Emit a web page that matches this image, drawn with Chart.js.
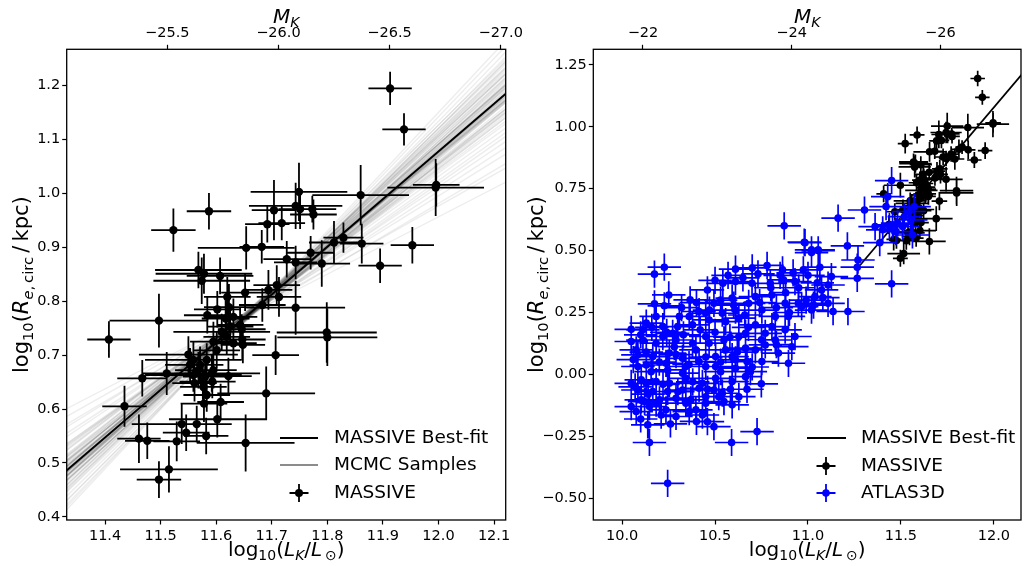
<!DOCTYPE html>
<html><head><meta charset="utf-8">
<script src="https://cdn.jsdelivr.net/npm/chart.js@4.4.1/dist/chart.umd.min.js"></script>
<style>
html,body{margin:0;padding:0;background:#fff;width:1025px;height:566px;overflow:hidden}
#c1{position:absolute;left:0;top:0}
#c2{position:absolute;left:510px;top:0}
</style></head>
<body>
<canvas id="c1" width="550" height="566"></canvas>
<canvas id="c2" width="515" height="566"></canvas>
<script>
// ---------------- DATA ----------------
// MASSIVE: log10(L_K/Lsun), log10(Re/kpc) and their errors
const massiveLogL = [11.913,11.938,11.996,11.995,11.860,11.953,11.895,11.862,11.829,11.812,11.790,11.770,11.749,11.743,11.751,11.773,11.775,11.704,11.692,11.718,11.587,11.523,11.654,11.682,11.727,11.743,11.694,11.713,11.683,11.743,11.799,11.800,11.707,11.690,11.653,11.497,11.407,11.435,11.467,11.461,11.476,11.497,11.515,11.529,11.546,11.538,11.565,11.582,11.602,11.608,11.578,11.577,11.511,11.550,11.561,11.593,11.622,11.647,11.648,11.646,11.584,11.617,11.623,11.620,11.652,11.607,11.568,11.578,11.574,11.602,11.595,11.601,11.610,11.625,11.643,11.559,11.571,11.583,11.595,11.553,11.568,11.580,11.592,11.576,11.559,11.631,11.619,11.631,11.709,11.583];
const massiveLogRe = [1.195,1.119,1.016,1.011,0.997,0.904,0.866,0.907,0.918,0.909,0.870,0.890,1.003,0.977,0.971,0.971,0.961,0.969,0.943,0.945,0.967,0.932,0.899,0.901,0.878,0.872,0.821,0.808,0.793,0.788,0.742,0.733,0.700,0.629,0.537,0.764,0.729,0.605,0.657,0.545,0.541,0.469,0.488,0.540,0.556,0.572,0.572,0.550,0.581,0.613,0.610,0.641,0.666,0.701,0.648,0.651,0.661,0.729,0.719,0.748,0.774,0.768,0.789,0.808,0.816,0.847,0.858,0.851,0.838,0.785,0.725,0.709,0.743,0.753,0.756,0.691,0.682,0.691,0.672,0.682,0.672,0.660,0.666,0.651,0.663,0.722,0.734,0.771,0.830,0.626];
const massiveErrL = [0.039,0.039,0.042,0.087,0.087,0.039,0.039,0.039,0.036,0.045,0.051,0.043,0.087,0.084,0.039,0.043,0.042,0.040,0.040,0.042,0.040,0.040,0.087,0.040,0.042,0.039,0.043,0.040,0.042,0.089,0.090,0.090,0.042,0.088,0.088,0.089,0.039,0.040,0.045,0.039,0.040,0.040,0.088,0.042,0.042,0.090,0.042,0.040,0.087,0.042,0.042,0.042,0.045,0.089,0.040,0.042,0.042,0.042,0.040,0.043,0.042,0.043,0.045,0.042,0.043,0.060,0.078,0.087,0.087,0.042,0.042,0.042,0.087,0.042,0.042,0.087,0.042,0.043,0.042,0.045,0.042,0.040,0.087,0.042,0.087,0.042,0.042,0.043,0.042,0.042];
const massiveErrRe = [0.031,0.030,0.040,0.053,0.056,0.034,0.032,0.037,0.028,0.040,0.043,0.031,0.054,0.043,0.037,0.025,0.028,0.056,0.034,0.032,0.034,0.040,0.040,0.031,0.034,0.031,0.037,0.037,0.031,0.050,0.056,0.053,0.037,0.050,0.053,0.050,0.034,0.038,0.034,0.045,0.034,0.034,0.043,0.037,0.034,0.037,0.034,0.034,0.034,0.034,0.034,0.031,0.040,0.034,0.034,0.031,0.034,0.037,0.034,0.028,0.034,0.034,0.043,0.037,0.034,0.034,0.034,0.037,0.043,0.034,0.037,0.034,0.034,0.031,0.034,0.034,0.034,0.031,0.034,0.031,0.034,0.032,0.034,0.034,0.031,0.031,0.034,0.034,0.037,0.031];

// ATLAS3D
const atlasLogL = [11.450,11.429,11.361,11.304,11.162,10.872,10.980,11.019,11.055,11.212,11.269,11.265,11.265,11.386,11.450,11.215,11.135,11.482,11.509,11.544,11.571,11.562,11.553,11.455,11.420,11.438,11.473,11.518,11.402,
10.227,10.174,10.251,10.174,10.227,10.366,10.459,10.610,10.542,10.610,10.731,10.699,10.863,10.797,10.868,10.930,10.984,11.019,11.055,11.064,10.975,11.126,11.108,11.019,10.948,10.877,10.806,10.717,10.592,10.494,10.414,10.308,
10.049,10.130,10.219,10.299,10.379,10.468,10.557,10.628,10.717,10.806,10.877,10.930,
10.049,10.112,10.219,10.281,10.379,10.468,10.548,10.628,10.664,10.770,10.841,10.913,
10.085,10.165,10.254,10.325,10.414,10.503,10.592,10.672,10.752,10.895,
10.085,10.156,10.245,10.325,10.450,10.530,10.610,10.690,
10.103,10.183,10.254,10.343,10.432,10.503,10.592,10.664,10.749,
10.085,10.165,10.245,10.325,10.414,10.494,10.583,10.672,
10.121,10.201,10.290,10.370,10.450,10.548,10.592,
10.049,10.076,10.147,10.210,10.290,10.361,10.432,10.459,10.494,10.138,10.147,10.589,10.726,10.245,
10.076,10.130,10.183,10.236,10.290,10.343,10.397,10.450,10.503,10.557,10.610,10.664,10.717,10.770,10.824,
10.130,10.183,10.236,10.343,10.397,10.450,10.539,10.628,
10.895,10.966,11.037,11.073,11.108,10.824,10.752,10.681,10.610,10.539,10.450,10.361,10.272,10.183,10.112,10.049,10.103,
10.70,10.78,10.85,10.92,11.00,11.05,10.95,10.88,10.80,10.65,10.57,10.50,
10.32,10.40,10.47,10.53,10.60,10.66,10.74,10.83,10.90,10.99,11.03,11.08,
10.10,10.16,10.24,10.33,10.42,10.50,10.58,10.68,10.75,10.83,
10.06,10.13,10.20,10.29,10.36,10.45,10.53,10.62,10.70,
10.07,10.14,10.22,10.30,10.38,10.46,10.52,
10.10,10.26,10.40];
const atlasLogRe = [0.783,0.718,0.597,0.664,0.631,0.600,0.534,0.503,0.503,0.519,0.462,0.433,0.388,0.532,0.366,0.254,0.254,0.611,0.597,0.658,0.678,0.563,0.624,0.604,0.678,0.597,0.577,0.637,0.584,
0.433,0.405,0.321,0.285,0.277,0.301,0.341,0.425,0.368,0.375,0.406,0.368,0.422,0.368,0.382,0.375,0.532,0.492,0.500,0.433,0.422,0.395,0.361,0.260,0.287,0.287,0.321,0.314,0.308,0.287,0.254,0.234,
0.182,0.207,0.193,0.193,0.200,0.220,0.213,0.227,0.200,0.193,0.180,0.153,
0.133,0.139,0.153,0.112,0.126,0.126,0.139,0.153,0.106,0.119,0.086,0.112,
0.079,0.072,0.086,0.065,0.052,0.072,0.072,0.052,0.052,0.045,
0.032,0.011,0.018,0.005,0.032,0.011,0.025,0.011,
-0.022,-0.029,-0.036,-0.016,-0.036,-0.016,-0.029,-0.009,-0.038,
-0.063,-0.069,-0.069,-0.063,-0.056,-0.063,-0.060,-0.060,
-0.110,-0.103,-0.096,-0.103,-0.090,-0.110,-0.123,
-0.130,-0.150,-0.130,-0.164,-0.170,-0.150,-0.164,-0.191,-0.211,-0.204,-0.275,-0.275,-0.231,-0.440,
0.099,0.038,0.126,0.045,0.139,0.032,0.099,0.153,0.032,0.099,0.059,0.166,0.099,0.166,0.139,
-0.036,-0.116,-0.143,-0.116,-0.143,-0.116,-0.076,-0.090,
0.234,0.274,0.314,0.341,0.287,0.234,0.260,0.287,0.260,0.247,0.247,0.234,0.166,0.234,0.180,-0.036,-0.103,
0.43,0.44,0.40,0.41,0.40,0.37,0.35,0.33,0.35,0.39,0.40,0.38,
0.27,0.29,0.26,0.30,0.28,0.24,0.29,0.27,0.25,0.30,0.28,0.31,
0.16,0.19,0.17,0.16,0.18,0.17,0.15,0.19,0.14,0.12,
0.06,0.09,0.05,0.08,0.04,0.07,0.05,0.09,0.03,
-0.05,-0.08,-0.04,-0.07,-0.03,-0.06,-0.09,
-0.18,-0.20,-0.19];
const atlasErrL = [0.09];
const atlasErrRe = [0.055];

// Best fit (MASSIVE) : slope and value at pivot
const PIVOT_X = 11.653;
const bestFit = [0.885, 0.771];           // [slope, y at pivot]
// MCMC samples: slopes and y at pivot
const mcmcSlope = [0.885,0.912,0.861,0.947,0.823,0.901,0.874,0.989,0.781,0.933,0.858,0.893,1.021,0.742,0.962,0.845,0.921,0.804,0.879,1.063,0.693,0.941,0.832,0.905,0.972,0.758,0.869,1.004,0.812,0.889,0.584,1.102,0.864,0.928,0.792,0.913,0.641,1.043,0.851,0.882,0.722,0.981,0.839,0.953,0.532,0.897,0.871,0.826,1.082,0.917,0.866,0.908,0.768,0.994,0.856,0.877,0.934,0.815,0.902,0.671,1.031,0.848,0.887,0.958,0.797,0.925,0.612,0.873,0.944,0.836,0.895,1.012,0.735,0.883,0.919,0.859,0.967,0.807,0.891,0.868];
const mcmcPivotY = [0.771,0.776,0.766,0.773,0.769,0.779,0.764,0.772,0.775,0.768,0.770,0.781,0.767,0.774,0.763,0.778,0.771,0.769,0.776,0.765,0.772,0.770,0.780,0.767,0.773,0.775,0.762,0.771,0.777,0.769,0.774,0.768,0.772,0.766,0.779,0.770,0.773,0.765,0.776,0.771,0.768,0.774,0.769,0.778,0.772,0.764,0.775,0.770,0.767,0.773,0.771,0.769,0.775,0.766,0.772,0.770,0.777,0.768,0.774,0.771,0.763,0.776,0.770,0.773,0.768,0.775,0.769,0.772,0.779,0.766,0.771,0.776,0.769,0.772,0.765,0.778,0.770,0.774,0.767,0.773];
const SOLAR_MK = 3.28;   // M_K = SOLAR_MK - 2.5 log10(L_K/Lsun)

// axis ranges
const leftX = [11.331, 12.121], leftY = [0.394, 1.2676];
const rightX = [9.845, 12.146], rightY = [-0.588, 1.313];

// ---------------- HELPERS ----------------
const FAM = "'DejaVu Sans'";
Chart.defaults.font.family = FAM;
Chart.defaults.color = '#000';

function pts(xs, ys){ const n=Math.min(xs.length, ys.length); const o=[]; for(let i=0;i<n;i++) o.push({x:xs[i], y:ys[i]}); return o; }
function lineAt(slope, py, x){ return py + slope*(x - PIVOT_X); }
function fmtMinus(s){ return s.replace('-', '\u2212'); }

const errorBars = {
  id:'errorBars',
  beforeDatasetDraw(chart, args){
    const ds = chart.data.datasets[args.index];
    if(!ds.errX) return;
    const xs = chart.scales.x, ys = chart.scales.y, ctx = chart.ctx, a = chart.chartArea;
    ctx.save();
    ctx.beginPath(); ctx.rect(a.left, a.top, a.right-a.left, a.bottom-a.top); ctx.clip();
    ctx.strokeStyle = ds.errColor; ctx.lineWidth = ds.errWidth; ctx.lineCap='butt';
    ctx.beginPath();
    ds.data.forEach((p,i)=>{
      const ex = ds.errX[i % ds.errX.length], ey = ds.errY[i % ds.errY.length];
      const px = xs.getPixelForValue(p.x), py = ys.getPixelForValue(p.y);
      ctx.moveTo(xs.getPixelForValue(p.x-ex), py); ctx.lineTo(xs.getPixelForValue(p.x+ex), py);
      ctx.moveTo(px, ys.getPixelForValue(p.y-ey)); ctx.lineTo(px, ys.getPixelForValue(p.y+ey));
    });
    ctx.stroke();
    ctx.restore();
  }
};

const frame = {
  id:'frame',
  afterDatasetsDraw(chart){
    const a = chart.chartArea, ctx = chart.ctx;
    ctx.save(); ctx.strokeStyle='#000'; ctx.lineWidth=1.3;
    ctx.strokeRect(a.left, a.top, a.right-a.left, a.bottom-a.top);
    ctx.restore();
  }
};

// rich (math-like) text
function rich(ctx, parts, x, y, size, rotate){
  ctx.save();
  ctx.translate(x, y);
  if(rotate) ctx.rotate(-Math.PI/2);
  const fontOf = k => {
    const sub = k==='s' || k==='si';
    const it = k==='i' || k==='si';
    return (it?'italic ':'') + (sub? size*0.7 : size) + 'px ' + FAM;
  };
  let total = 0;
  parts.forEach(p=>{ ctx.font = fontOf(p[1]); total += ctx.measureText(p[0]).width; });
  let cx = -total/2;
  ctx.textAlign='left'; ctx.textBaseline='alphabetic'; ctx.fillStyle='#000';
  parts.forEach(p=>{
    ctx.font = fontOf(p[1]);
    const dy = (p[1]==='s'||p[1]==='si') ? size*0.22 : 0;
    ctx.fillText(p[0], cx, dy);
    cx += ctx.measureText(p[0]).width;
  });
  ctx.restore();
}
const LBL_X = [['log','n'],['10','s'],['(','n'],['L','i'],['K','si'],['/','n'],['L','i'],['\u2009\u2299','s'],[')','n']];
const LBL_Y = [['log','n'],['10','s'],['(','n'],['R','i'],['e','si'],[',\u2009circ','s'],['\u2009/\u2009kpc)','n']];
const LBL_T = [['M','i'],['K','si']];

function errMarker(ctx, x, y, color, hw, hh, r){
  ctx.save(); ctx.strokeStyle=color; ctx.fillStyle=color; ctx.lineWidth=1.8;
  ctx.beginPath(); ctx.moveTo(x-hw,y); ctx.lineTo(x+hw,y); ctx.moveTo(x,y-hh); ctx.lineTo(x,y+hh); ctx.stroke();
  ctx.beginPath(); ctx.arc(x,y,r,0,Math.PI*2); ctx.fill(); ctx.restore();
}
function seg(ctx,x1,x2,y,color,w){ ctx.save(); ctx.strokeStyle=color; ctx.lineWidth=w; ctx.beginPath(); ctx.moveTo(x1,y); ctx.lineTo(x2,y); ctx.stroke(); ctx.restore(); }

function scalesFor(xr, yr, stepX, stepY, stepT, yDec, tDec, yWidth){
  const tick = {display:true, drawOnChartArea:false, drawTicks:true, tickLength:4.5, tickWidth:1.2, tickColor:'#000'};
  const tfont = {family:FAM, size:14.5};
  return {
    x:{type:'linear', position:'bottom', min:xr[0], max:xr[1], border:{display:false}, grid:tick,
       ticks:{stepSize:stepX, includeBounds:false, autoSkip:false, maxRotation:0, font:tfont, color:'#000', padding:3,
              callback:v=>fmtMinus(v.toFixed(1))},
       afterFit(s){ s.height = 46; }},
    x2:{type:'linear', axis:'x', position:'top', reverse:true,
        min:SOLAR_MK-2.5*xr[1], max:SOLAR_MK-2.5*xr[0], border:{display:false}, grid:tick,
        ticks:{stepSize:stepT, includeBounds:false, autoSkip:false, maxRotation:0, font:tfont, color:'#000', padding:3,
               callback:v=>fmtMinus(v.toFixed(tDec))},
        afterFit(s){ s.height = 49.3; }},
    y:{type:'linear', position:'left', min:yr[0], max:yr[1], border:{display:false}, grid:tick,
       ticks:{stepSize:stepY, includeBounds:false, autoSkip:false, font:tfont, color:'#000', padding:2,
              callback:v=>fmtMinus(v.toFixed(yDec))},
       afterFit(s){ s.width = yWidth; }}
  };
}

// ---------------- LEFT CHART ----------------
const leftSets = [];
mcmcSlope.forEach((s,i)=>{
  leftSets.push({data:[{x:11.2,y:lineAt(s,mcmcPivotY[i],11.2)},{x:12.25,y:lineAt(s,mcmcPivotY[i],12.25)}],
    showLine:true, borderColor:'rgba(0,0,0,0.07)', borderWidth:1.5, pointRadius:0, order:3});
});
leftSets.push({data:[{x:11.2,y:lineAt(bestFit[0],bestFit[1],11.2)},{x:12.25,y:lineAt(bestFit[0],bestFit[1],12.25)}],
  showLine:true, borderColor:'#000', borderWidth:1.8, pointRadius:0, order:2});
leftSets.push({data:pts(massiveLogL, massiveLogRe), pointRadius:4.2, pointBackgroundColor:'#000', pointBorderWidth:0,
  errX:massiveErrL, errY:massiveErrRe, errColor:'#000', errWidth:1.8, order:1});

const leftText = {
  id:'leftText',
  afterDraw(chart){
    const ctx = chart.ctx, a = chart.chartArea, cx=(a.left+a.right)/2, cy=(a.top+a.bottom)/2;
    rich(ctx, LBL_X, cx, 556, 20, false);
    rich(ctx, LBL_Y, 28, cy, 21, true);
    rich(ctx, LBL_T, cx, 23, 20, false);
    ctx.save(); ctx.font='18.5px '+FAM; ctx.fillStyle='#000'; ctx.textBaseline='middle'; ctx.textAlign='left';
    seg(ctx,280,318,438,'#000',1.8); ctx.fillText('MASSIVE Best-fit',334,438);
    seg(ctx,280,318,465,'#8c8c8c',1.8); ctx.fillText('MCMC Samples',334,465);
    errMarker(ctx,299,493,'#000',9.5,9,4); ctx.fillText('MASSIVE',334,493);
    ctx.restore();
  }
};

new Chart(document.getElementById('c1'), {
  type:'scatter',
  data:{datasets:leftSets},
  options:{responsive:false, animation:false, devicePixelRatio:1,
    layout:{padding:{left:0,top:0,right:44.3,bottom:0}},
    plugins:{legend:{display:false}, tooltip:{enabled:false}},
    scales:scalesFor(leftX, leftY, 0.1, 0.1, 0.5, 1, 1, 66.7)},
  plugins:[errorBars, frame, leftText]
});

// ---------------- RIGHT CHART ----------------
const rightSets = [
  {data:[{x:11.28,y:lineAt(bestFit[0],bestFit[1],11.28)},{x:12.3,y:lineAt(bestFit[0],bestFit[1],12.3)}],
   showLine:true, borderColor:'#000', borderWidth:1.8, pointRadius:0, order:3},
  {data:pts(massiveLogL, massiveLogRe), pointRadius:3.8, pointBackgroundColor:'#000', pointBorderWidth:0,
   errX:massiveErrL, errY:massiveErrRe, errColor:'#000', errWidth:1.7, order:2},
  {data:pts(atlasLogL, atlasLogRe), pointRadius:3.8, pointBackgroundColor:'#0000ff', pointBorderWidth:0,
   errX:atlasErrL, errY:atlasErrRe, errColor:'#0000ff', errWidth:1.7, order:1}
];
const rightText = {
  id:'rightText',
  afterDraw(chart){
    const ctx = chart.ctx, a = chart.chartArea, cx=(a.left+a.right)/2, cy=(a.top+a.bottom)/2;
    rich(ctx, LBL_X, cx, 556, 20, false);
    rich(ctx, LBL_Y, 33, cy, 21, true);
    rich(ctx, LBL_T, cx, 23, 20, false);
    ctx.save(); ctx.font='18.5px '+FAM; ctx.fillStyle='#000'; ctx.textBaseline='middle'; ctx.textAlign='left';
    seg(ctx,297,336,438,'#000',1.8); ctx.fillText('MASSIVE Best-fit',351,438);
    errMarker(ctx,316,466,'#000',9.5,9,3.8); ctx.fillText('MASSIVE',351,466);
    errMarker(ctx,316,493,'#0000ff',9.5,9,3.8); ctx.fillText('ATLAS3D',351,493);
    ctx.restore();
  }
};
new Chart(document.getElementById('c2'), {
  type:'scatter',
  data:{datasets:rightSets},
  options:{responsive:false, animation:false, devicePixelRatio:1,
    layout:{padding:{left:0,top:0,right:0.7,bottom:0}},
    plugins:{legend:{display:false}, tooltip:{enabled:false}},
    scales:scalesFor(rightX, rightY, 0.5, 0.25, 2, 2, 0, 83.3)},
  plugins:[errorBars, frame, rightText]
});
</script>
</body></html>
